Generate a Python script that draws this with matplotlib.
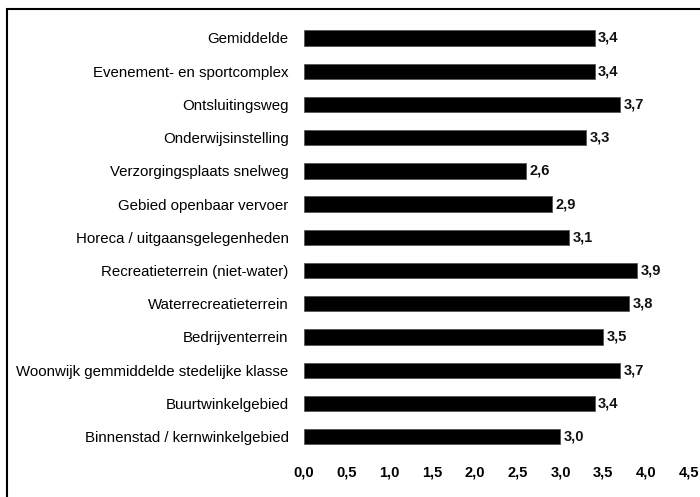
import matplotlib
matplotlib.use("Agg")
import matplotlib.pyplot as plt
from matplotlib.patches import Rectangle
import numpy as np

# categories from top to bottom, as in the chart
categories = [
    "Gemiddelde",
    "Evenement- en sportcomplex",
    "Ontsluitingsweg",
    "Onderwijsinstelling",
    "Verzorgingsplaats snelweg",
    "Gebied openbaar vervoer",
    "Horeca / uitgaansgelegenheden",
    "Recreatieterrein (niet-water)",
    "Waterrecreatieterrein",
    "Bedrijventerrein",
    "Woonwijk gemmiddelde stedelijke klasse",
    "Buurtwinkelgebied",
    "Binnenstad / kernwinkelgebied",
]
scores = [3.4, 3.4, 3.7, 3.3, 2.6, 2.9, 3.1, 3.9, 3.8, 3.5, 3.7, 3.4, 3.0]
xticks = [0.0, 0.5, 1.0, 1.5, 2.0, 2.5, 3.0, 3.5, 4.0, 4.5]

plt.rcParams["font.family"] = ["Liberation Sans", "DejaVu Sans"]

fig = plt.figure(figsize=(7.0, 4.97), dpi=100)
ax = fig.add_axes([0.434, 0.088, 0.55, 0.869])

y = np.arange(len(categories))
ax.barh(y, scores, height=0.46, color="black", edgecolor="#555555", linewidth=0.6)

# value labels at the end of each bar
for yi, v in zip(y, scores):
    ax.text(v + 0.04, yi, f"{v:.1f}".replace(".", ","), va="center", ha="left",
            fontsize=10.5, fontweight="bold", color="#111111")

ax.set_yticks(y)
ax.set_yticklabels(categories, fontsize=10.8)
ax.set_xticks(xticks)
ax.set_xticklabels([f"{t:.1f}".replace(".", ",") for t in xticks], fontsize=10.5, fontweight="bold")
ax.set_xlim(0, 4.5)
ax.set_ylim(len(categories) - 0.5, -0.5)
ax.tick_params(axis="both", length=0)
ax.tick_params(axis="y", pad=11)
ax.tick_params(axis="x", pad=9)
for s in ax.spines.values():
    s.set_visible(False)

# frame around the chart
fig.patches.append(Rectangle((0.010, -0.01), 1.0, 0.992, transform=fig.transFigure,
                             fill=False, edgecolor="black", linewidth=1.5))

plt.savefig("out.png", dpi=100)
